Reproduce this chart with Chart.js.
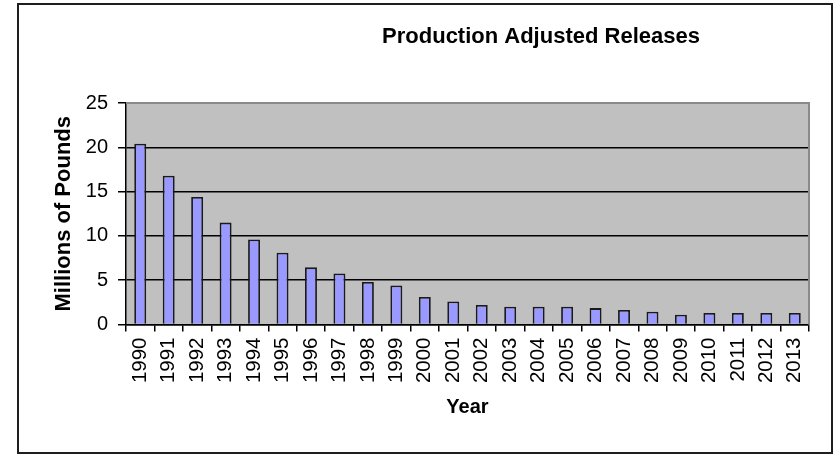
<!DOCTYPE html>
<html>
<head>
<meta charset="utf-8">
<script src="https://cdn.jsdelivr.net/npm/chart.js@4/dist/chart.umd.min.js"></script>
<style>
  html, body { margin: 0; padding: 0; background: #fff; }
  #wrap { position: relative; width: 835px; height: 454px; }
  #frame { position: absolute; left: 17px; top: 3px; width: 816px; height: 451px; border: 2px solid #1e1e1e; box-sizing: border-box; pointer-events: none; }
  canvas { position: absolute; left: 0; top: 0; }
</style>
</head>
<body>
<div id="wrap">
  <canvas id="c" width="835" height="454"></canvas>
  <div id="frame"></div>
</div>
<script>
const chartTitle = "Production Adjusted Releases";
const xAxisTitle = "Year";
const yAxisTitle = "Millions of Pounds";
const years = ["1990","1991","1992","1993","1994","1995","1996","1997","1998","1999","2000","2001","2002","2003","2004","2005","2006","2007","2008","2009","2010","2011","2012","2013"];
const releases = [20.4, 16.8, 14.4, 11.5, 9.6, 8.1, 6.45, 5.75, 4.8, 4.4, 3.1, 2.6, 2.2, 2.0, 2.0, 2.0, 1.85, 1.65, 1.45, 1.1, 1.3, 1.3, 1.3, 1.3];
const yTicks = [0, 5, 10, 15, 20, 25];

const FONT = "'Liberation Sans', Arial, sans-serif";

const plotBg = {
  id: 'plotBg',
  beforeDraw(chart) {
    const {ctx, chartArea: a} = chart;
    ctx.save();
    ctx.fillStyle = '#c0c0c0';
    ctx.fillRect(a.left, a.top, a.right - a.left, a.bottom - a.top);
    ctx.restore();
  },
  afterDatasetsDraw(chart) {
    const {ctx, chartArea: a} = chart;
    ctx.save();
    ctx.strokeStyle = '#8a8a8a';
    ctx.lineWidth = 2;
    ctx.beginPath();
    ctx.moveTo(a.left, a.top);
    ctx.lineTo(a.right, a.top);
    ctx.lineTo(a.right, a.bottom);
    ctx.stroke();
    ctx.restore();
  },
  afterDraw(chart) {
    const {ctx} = chart;
    ctx.save();
    ctx.fillStyle = '#000';
    ctx.font = "bold 22px " + FONT;
    ctx.textAlign = 'center';
    ctx.textBaseline = 'middle';
    ctx.fillText(chartTitle, 541, 37);
    ctx.restore();
  }
};

new Chart(document.getElementById('c'), {
  type: 'bar',
  data: {
    labels: years,
    datasets: [{
      data: releases,
      backgroundColor: '#9999ff',
      borderColor: '#1a1a1a',
      borderWidth: 1.8,
      barPercentage: 0.42,
      categoryPercentage: 1.0
    }]
  },
  options: {
    responsive: false,
    animation: false,
    events: [],
    layout: { padding: { left: 44, right: 26, top: 103, bottom: 0 } },
    plugins: { legend: { display: false }, tooltip: { enabled: false }, title: { display: false } },
    scales: {
      x: {
        offset: true,
        afterFit(scale) { scale.height = 129.5; },
        grid: { offset: true, drawOnChartArea: false, drawTicks: true, tickLength: 7, color: '#000', lineWidth: 1.5 },
        border: { display: true, color: '#000', width: 1.5 },
        ticks: { color: '#000', font: { family: FONT, size: 20.5 }, minRotation: 90, maxRotation: 90, padding: 6, autoSkip: false },
        title: { display: true, text: xAxisTitle, color: '#000', font: { family: FONT, size: 20, weight: 'bold' }, padding: { top: 0, bottom: 35 } }
      },
      y: {
        min: 0, max: 25,
        afterFit(scale) { scale.width = 82; },
        afterBuildTicks(scale) { scale.ticks = yTicks.map(v => ({ value: v })); },
        grid: {
          drawTicks: true, tickLength: 8, lineWidth: 1.5,
          color: (c) => (c.tick && c.tick.value === 25) ? 'rgba(0,0,0,0)' : '#000',
          tickColor: '#000'
        },
        border: { display: true, color: '#000', width: 1.5 },
        ticks: { color: '#000', font: { family: FONT, size: 20 }, padding: 10 },
        title: { display: true, text: yAxisTitle, color: '#000', font: { family: FONT, size: 22, weight: 'bold' }, padding: { top: 7, bottom: 0 } }
      }
    }
  },
  plugins: [plotBg]
});
</script>
</body>
</html>
